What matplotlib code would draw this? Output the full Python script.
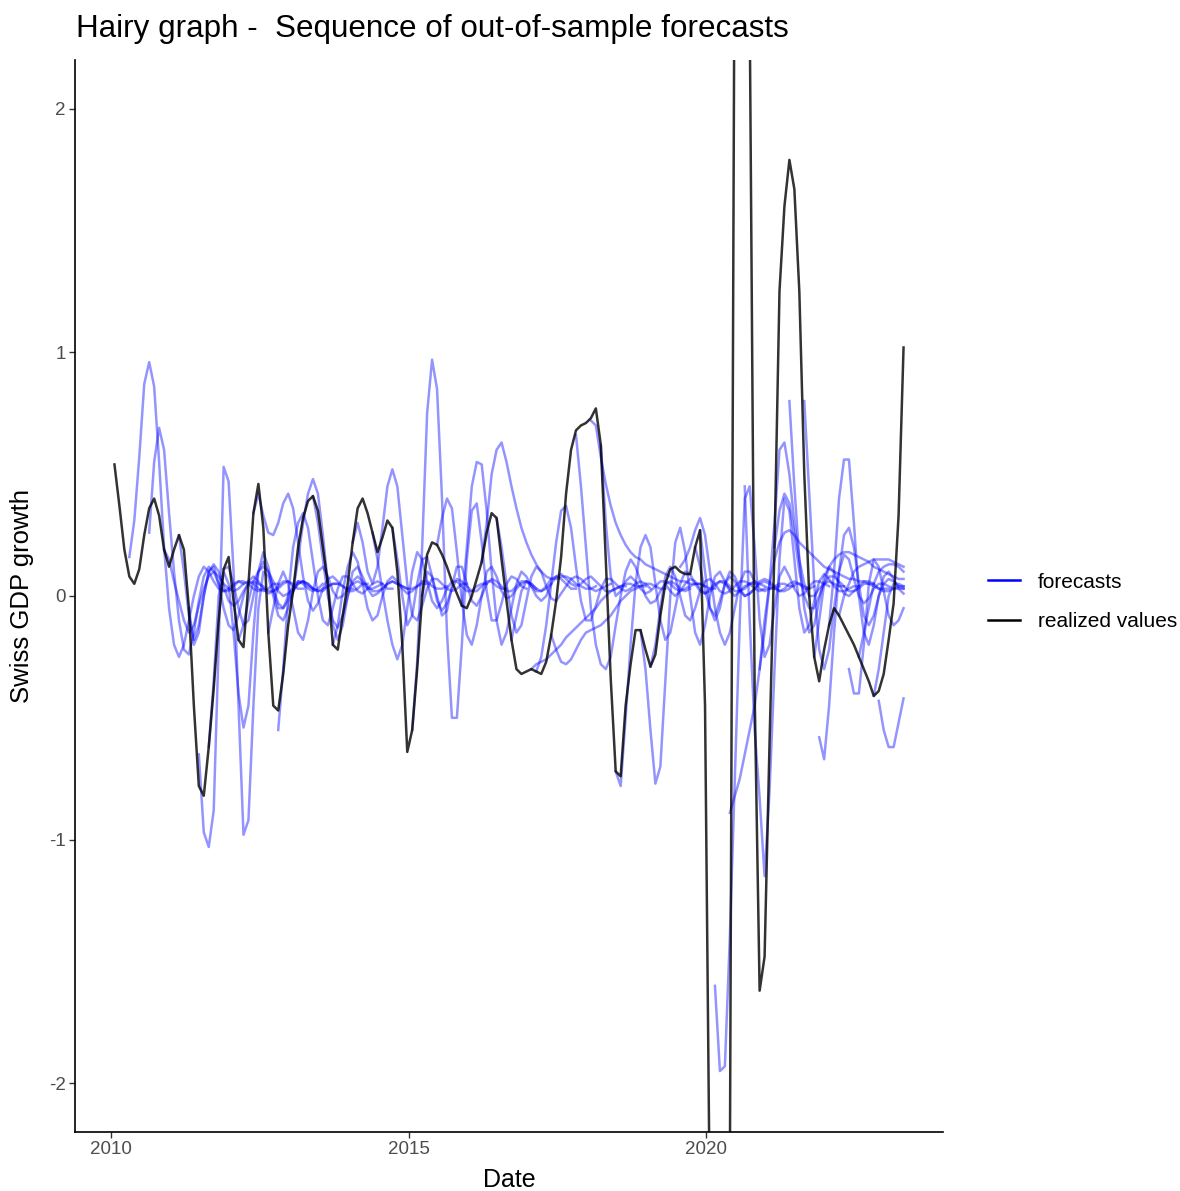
import numpy as np
import matplotlib
matplotlib.use("Agg")
import matplotlib.pyplot as plt
from matplotlib.lines import Line2D

plt.rcParams["font.family"] = ["Liberation Sans", "DejaVu Sans"]
plt.rcParams["axes.unicode_minus"] = False

# realized monthly Swiss GDP growth, first month = 2010-01
first_year = 2010.06
realized = [
    0.54, 0.37, 0.19, 0.08, 0.05, 0.11, 0.25, 0.36, 0.40, 0.33,
    0.19, 0.12, 0.19, 0.25, 0.19, -0.05, -0.45, -0.78, -0.82, -0.62,
    -0.38, -0.10, 0.11, 0.16, -0.02, -0.18, -0.21, 0.05, 0.34, 0.46,
    0.28, -0.15, -0.45, -0.47, -0.32, -0.12, 0.02, 0.20, 0.32, 0.39,
    0.41, 0.35, 0.20, 0.05, -0.20, -0.22, -0.08, 0.05, 0.22, 0.36,
    0.40, 0.34, 0.26, 0.18, 0.24, 0.31, 0.28, 0.10, -0.20, -0.64,
    -0.55, -0.30, 0.00, 0.17, 0.22, 0.21, 0.17, 0.12, 0.06, 0.01,
    -0.04, -0.05, 0.00, 0.07, 0.14, 0.26, 0.34, 0.32, 0.15, -0.02,
    -0.18, -0.30, -0.32, -0.31, -0.30, -0.31, -0.32, -0.27, -0.16, -0.02,
    0.16, 0.42, 0.60, 0.68, 0.70, 0.71, 0.73, 0.77, 0.62, 0.15,
    -0.34, -0.72, -0.74, -0.45, -0.28, -0.14, -0.14, -0.22, -0.29, -0.24,
    -0.08, 0.05, 0.11, 0.12, 0.10, 0.09, 0.09, 0.20, 0.27, -0.45,
    -2.60, -6.50, -7.50, -5.00, -2.40, 3.00, 6.00, 5.00, 2.40, -0.40,
    -1.62, -1.48, -0.60, 0.20, 1.25, 1.60, 1.79, 1.67, 1.25, 0.50,
    0.00, -0.25, -0.35, -0.22, -0.12, -0.05, -0.08, -0.12, -0.16, -0.20,
    -0.25, -0.30, -0.35, -0.41, -0.39, -0.32, -0.18, -0.03, 0.33, 1.02,
]

# forecast paths: month index of the first forecast and the forecast values
forecast_start = [
    3, 7, 10, 13, 15, 17, 19, 22, 25, 28,
    31, 33, 36, 40, 44, 48, 52, 56, 60, 62,
    65, 70, 74, 77, 85, 84, 88, 93, 96, 101,
    106, 108, 114, 117, 121, 124, 127, 136, 139, 130,
    133, 141, 142, 144, 148, 150, 153, 154, 146, 118,
    80, 98, 111,
]
forecast_values = [
    [0.16, 0.31, 0.57, 0.87, 0.96, 0.86, 0.55, 0.20, -0.05, -0.20, -0.25, -0.20, -0.10, 0.00, 0.08, 0.12, 0.10, 0.06, 0.03, 0.02, 0.03, 0.05, 0.06, 0.05],
    [0.26, 0.55, 0.69, 0.60, 0.34, 0.10, -0.10, -0.22, -0.24, -0.15, -0.02, 0.08, 0.12, 0.10, 0.05, 0.02, 0.02, 0.04, 0.06, 0.06, 0.05, 0.03, 0.02, 0.03],
    [0.19, 0.15, 0.06, -0.02, -0.10, -0.15, -0.12, -0.04, 0.03, 0.08, 0.10, 0.08, 0.05, 0.03, 0.02, 0.03, 0.05, 0.06, 0.05, 0.03, 0.02, 0.03, 0.05, 0.05],
    [0.25, 0.10, -0.08, -0.18, -0.12, 0.00, 0.10, 0.13, 0.10, 0.04, -0.02, -0.04, -0.02, 0.02, 0.05, 0.06, 0.05, 0.04, 0.02, 0.02, 0.03, 0.05, 0.06, 0.05],
    [-0.05, -0.20, -0.15, 0.00, 0.10, 0.12, 0.05, -0.05, -0.12, -0.14, -0.08, 0.00, 0.06, 0.08, 0.06, 0.03, 0.01, 0.02, 0.04, 0.06, 0.06, 0.04, 0.03, 0.03],
    [-0.65, -0.97, -1.03, -0.88, -0.20, 0.53, 0.47, 0.10, -0.45, -0.98, -0.92, -0.45, -0.05, 0.10, 0.08, 0.00, -0.08, -0.10, -0.05, 0.02, 0.06, 0.06, 0.04, 0.03],
    [-0.62, -0.35, 0.00, 0.10, 0.05, -0.15, -0.40, -0.54, -0.45, -0.15, 0.10, 0.18, 0.12, 0.02, -0.05, -0.05, 0.00, 0.04, 0.06, 0.05, 0.03, 0.02, 0.03, 0.05],
    [0.11, 0.12, 0.05, -0.05, -0.12, -0.10, 0.00, 0.10, 0.14, 0.10, 0.03, -0.03, -0.05, -0.02, 0.02, 0.05, 0.06, 0.05, 0.03, 0.02, 0.02, 0.04, 0.05, 0.05],
    [-0.18, -0.12, -0.02, 0.06, 0.10, 0.12, 0.10, 0.06, 0.02, 0.00, 0.01, 0.03, 0.05, 0.06, 0.05, 0.03, 0.02, 0.03, 0.04, 0.05, 0.05, 0.04, 0.03, 0.03],
    [0.34, 0.42, 0.33, 0.26, 0.25, 0.30, 0.38, 0.42, 0.36, 0.22, 0.08, -0.02, -0.06, -0.03, 0.03, 0.07, 0.08, 0.06, 0.04, 0.02, 0.02, 0.03, 0.05, 0.05],
    [-0.15, -0.05, 0.05, 0.10, 0.05, -0.05, -0.15, -0.18, -0.10, 0.02, 0.10, 0.12, 0.08, 0.02, -0.01, 0.00, 0.03, 0.05, 0.06, 0.05, 0.03, 0.03, 0.04, 0.05],
    [-0.55, -0.30, 0.00, 0.20, 0.30, 0.34, 0.28, 0.14, 0.00, -0.10, -0.12, -0.05, 0.03, 0.08, 0.08, 0.05, 0.02, 0.01, 0.03, 0.05, 0.06, 0.05, 0.03, 0.03],
    [0.02, 0.15, 0.30, 0.42, 0.48, 0.42, 0.25, 0.05, -0.12, -0.18, -0.12, 0.00, 0.10, 0.12, 0.08, 0.03, 0.00, 0.01, 0.03, 0.05, 0.06, 0.05, 0.04, 0.03],
    [0.41, 0.30, 0.15, 0.00, -0.10, -0.13, -0.08, 0.00, 0.06, 0.08, 0.06, 0.04, 0.02, 0.02, 0.03, 0.05, 0.06, 0.05, 0.04, 0.03, 0.03, 0.04, 0.05, 0.05],
    [-0.20, -0.12, 0.02, 0.12, 0.18, 0.14, 0.05, -0.05, -0.10, -0.08, 0.00, 0.06, 0.08, 0.06, 0.03, 0.01, 0.02, 0.04, 0.06, 0.06, 0.04, 0.03, 0.03, 0.04],
    [0.22, 0.30, 0.22, 0.10, 0.05, 0.12, 0.28, 0.45, 0.52, 0.45, 0.25, 0.05, -0.08, -0.10, -0.04, 0.03, 0.07, 0.07, 0.05, 0.03, 0.02, 0.03, 0.05, 0.05],
    [0.26, 0.15, 0.02, -0.10, -0.20, -0.26, -0.20, -0.05, 0.10, 0.18, 0.15, 0.06, -0.02, -0.05, -0.02, 0.03, 0.06, 0.06, 0.04, 0.02, 0.02, 0.04, 0.05, 0.05],
    [0.28, 0.15, 0.00, -0.12, -0.08, 0.05, 0.15, 0.16, 0.08, -0.02, -0.06, -0.03, 0.03, 0.07, 0.06, 0.04, 0.02, 0.02, 0.04, 0.06, 0.06, 0.04, 0.03, 0.03],
    [-0.55, -0.27, 0.20, 0.75, 0.97, 0.85, 0.40, -0.15, -0.50, -0.50, -0.20, 0.15, 0.35, 0.38, 0.22, 0.02, -0.10, -0.10, -0.03, 0.05, 0.08, 0.07, 0.04, 0.03],
    [0.00, 0.10, 0.08, 0.00, -0.08, -0.06, 0.04, 0.12, 0.12, 0.05, -0.02, -0.04, 0.00, 0.05, 0.07, 0.06, 0.04, 0.02, 0.02, 0.04, 0.06, 0.06, 0.05, 0.03],
    [0.21, 0.32, 0.40, 0.36, 0.18, -0.02, -0.16, -0.20, -0.12, 0.00, 0.10, 0.12, 0.08, 0.02, -0.01, 0.00, 0.03, 0.05, 0.06, 0.05, 0.03, 0.02, 0.03, 0.05],
    [-0.04, 0.20, 0.45, 0.55, 0.54, 0.35, 0.10, -0.10, -0.20, -0.15, -0.05, 0.05, 0.10, 0.08, 0.04, 0.02, 0.02, 0.04, 0.07, 0.08, 0.07, 0.05, 0.03, 0.03],
    [0.14, 0.30, 0.50, 0.60, 0.63, 0.55, 0.45, 0.36, 0.28, 0.22, 0.17, 0.13, 0.10, 0.08, 0.07, 0.07, 0.08, 0.08, 0.07, 0.05, 0.04, 0.03, 0.03, 0.04],
    [0.32, 0.20, 0.05, -0.08, -0.15, -0.12, -0.02, 0.08, 0.12, 0.10, 0.04, -0.01, -0.02, 0.01, 0.04, 0.07, 0.08, 0.07, 0.05, 0.03, 0.02, 0.03, 0.04, 0.05],
    [-0.31, -0.25, -0.12, 0.05, 0.22, 0.35, 0.37, 0.28, 0.12, -0.02, -0.10, -0.10, -0.04, 0.03, 0.07, 0.07, 0.05, 0.03, 0.02, 0.03, 0.05, 0.06, 0.05, 0.03],
    [-0.30, -0.28, -0.27, -0.26, -0.24, -0.22, -0.20, -0.17, -0.15, -0.13, -0.11, -0.09, -0.07, -0.05, -0.02, 0.00, 0.02, 0.03, 0.04, 0.05, 0.05, 0.04, 0.04, 0.04],
    [-0.16, -0.22, -0.27, -0.28, -0.26, -0.22, -0.18, -0.15, -0.14, -0.13, -0.12, -0.10, -0.08, -0.05, -0.02, 0.00, 0.02, 0.03, 0.04, 0.05, 0.05, 0.04, 0.03, 0.03],
    [0.66, 0.45, 0.20, -0.05, -0.20, -0.28, -0.30, -0.25, -0.12, 0.00, 0.10, 0.15, 0.12, 0.06, 0.00, -0.03, -0.02, 0.02, 0.05, 0.06, 0.05, 0.03, 0.02, 0.03],
    [0.72, 0.70, 0.57, 0.46, 0.37, 0.30, 0.25, 0.21, 0.18, 0.16, 0.15, 0.13, 0.12, 0.11, 0.10, 0.09, 0.08, 0.07, 0.06, 0.06, 0.05, 0.05, 0.05, 0.04],
    [-0.72, -0.78, -0.50, -0.20, 0.05, 0.20, 0.25, 0.20, 0.05, -0.10, -0.18, -0.15, -0.05, 0.05, 0.10, 0.09, 0.05, 0.02, 0.01, 0.03, 0.05, 0.06, 0.05, 0.03],
    [-0.14, -0.30, -0.55, -0.77, -0.70, -0.35, 0.00, 0.22, 0.28, 0.18, 0.00, -0.15, -0.20, -0.12, 0.00, 0.08, 0.10, 0.06, 0.02, 0.00, 0.02, 0.04, 0.05, 0.05],
    [-0.29, -0.20, -0.05, 0.08, 0.12, 0.08, 0.00, -0.08, -0.10, -0.05, 0.02, 0.06, 0.07, 0.05, 0.02, 0.01, 0.02, 0.04, 0.06, 0.06, 0.05, 0.03, 0.02, 0.03],
    [0.12, 0.15, 0.20, 0.27, 0.32, 0.25, 0.10, -0.05, -0.15, -0.20, -0.15, -0.05, 0.05, 0.10, 0.10, 0.06, 0.03, 0.02, 0.03, 0.04, 0.05, 0.05, 0.04, 0.04],
    [0.20, 0.12, 0.02, -0.05, -0.08, -0.02, 0.05, 0.08, 0.06, 0.02, 0.00, 0.01, 0.03, 0.06, 0.07, 0.06, 0.04, 0.02, 0.02, 0.03, 0.05, 0.05, 0.04, 0.03],
    [-1.60, -1.95, -1.93, -1.40, -0.75, -0.10, 0.40, 0.45, 0.20, -0.10, -0.25, -0.20, -0.05, 0.08, 0.12, 0.08, 0.03, 0.00, 0.01, 0.04, 0.06, 0.06, 0.05, 0.04],
    [-0.89, -0.82, -0.75, -0.65, -0.55, -0.45, -0.30, -0.15, 0.05, 0.30, 0.60, 0.63, 0.50, 0.30, 0.15, 0.05, 0.00, 0.00, 0.03, 0.05, 0.06, 0.05, 0.04, 0.04],
    [0.45, -0.10, -0.55, -0.83, -1.15, -0.80, -0.30, 0.15, 0.40, 0.35, 0.15, -0.05, -0.15, -0.12, -0.02, 0.06, 0.09, 0.07, 0.04, 0.02, 0.02, 0.03, 0.04, 0.04],
    [0.80, 0.45, 0.15, -0.05, -0.15, -0.12, -0.02, 0.08, 0.12, 0.10, 0.05, 0.01, 0.00, 0.02, 0.04, 0.06, 0.06, 0.05, 0.03, 0.02, 0.02, 0.03, 0.04, 0.04],
    [0.80, 0.42, 0.05, -0.22, -0.30, -0.22, -0.05, 0.10, 0.17, 0.15, 0.07, 0.00, -0.03, -0.01, 0.03, 0.05, 0.05, 0.04, 0.03, 0.03, 0.03],
    [-0.30, -0.10, 0.05, 0.15, 0.22, 0.26, 0.27, 0.25, 0.22, 0.20, 0.18, 0.16, 0.14, 0.12, 0.11, 0.10, 0.09, 0.08, 0.07, 0.07, 0.06, 0.06, 0.05, 0.05],
    [0.20, 0.35, 0.42, 0.38, 0.25, 0.10, 0.00, -0.05, -0.05, 0.00, 0.05, 0.08, 0.08, 0.06, 0.04, 0.02, 0.02, 0.03, 0.05, 0.05, 0.04, 0.03, 0.03, 0.03],
    [-0.25, -0.10, 0.05, 0.12, 0.15, 0.17, 0.18, 0.18, 0.17, 0.16, 0.15, 0.14, 0.12, 0.11, 0.10, 0.09, 0.08, 0.07, 0.07],
    [-0.58, -0.67, -0.45, -0.15, 0.10, 0.25, 0.28, 0.20, 0.05, -0.08, -0.12, -0.08, 0.00, 0.05, 0.07, 0.06, 0.04, 0.03],
    [-0.12, 0.10, 0.40, 0.56, 0.56, 0.30, 0.00, -0.15, -0.20, -0.12, 0.00, 0.08, 0.10, 0.07, 0.03, 0.01],
    [-0.30, -0.40, -0.40, -0.20, 0.05, 0.15, 0.12, 0.02, -0.08, -0.12, -0.10, -0.05],
    [-0.25, -0.15, -0.05, 0.05, 0.10, 0.12, 0.13, 0.13, 0.12, 0.10],
    [-0.41, -0.30, -0.15, 0.00, 0.05, 0.05, 0.04],
    [-0.43, -0.55, -0.62, -0.62, -0.52, -0.42],
    [-0.08, 0.00, 0.05, 0.10, 0.12, 0.13, 0.14, 0.15, 0.15, 0.15, 0.15, 0.14, 0.13, 0.12],
    [0.27, 0.10, -0.05, -0.10, -0.05, 0.05, 0.10, 0.08, 0.03, 0.00, 0.01, 0.03, 0.05, 0.06, 0.05, 0.03, 0.02, 0.03, 0.05, 0.06, 0.05, 0.03, 0.03, 0.04],
    [-0.18, -0.08, 0.02, 0.06, 0.04, 0.00, -0.02, 0.00, 0.05, 0.08, 0.09, 0.07, 0.05, 0.04, 0.05, 0.07, 0.08, 0.06, 0.04, 0.02, 0.02, 0.03, 0.04, 0.04],
    [0.62, 0.30, 0.08, 0.00, 0.02, 0.06, 0.08, 0.06, 0.03, 0.01, 0.02, 0.04, 0.06, 0.06, 0.05, 0.03, 0.02, 0.03, 0.04, 0.05, 0.05, 0.04, 0.03, 0.03],
    [0.05, 0.02, 0.00, 0.02, 0.05, 0.07, 0.06, 0.03, 0.01, 0.02, 0.04, 0.06, 0.06, 0.04, 0.02, 0.02, 0.03, 0.05, 0.06, 0.05, 0.04, 0.03, 0.03, 0.04],
]

n_months = len(realized)
dates = first_year + np.arange(n_months) / 12

W, H = 1180, 1191
fig = plt.figure(figsize=(W / 100, H / 100), dpi=100)
ax = fig.add_axes([75 / W, 1 - 1132 / H, (943 - 75) / W, (1132 - 60) / H])

for start, vals in zip(forecast_start, forecast_values):
    stop = min(start + len(vals), n_months)
    ax.plot(dates[start:stop], vals[:stop - start], color="blue", alpha=0.42, lw=1.8,
            solid_joinstyle="round")

ax.plot(dates, realized, color="black", alpha=0.8, lw=1.8)

span = dates[-1] - dates[0]
ax.set_xlim(dates[0] - 0.05 * span, dates[-1] + 0.05 * span)
ax.set_ylim(-2.2, 2.2)
ax.set_xticks([2010, 2015, 2020])
ax.set_yticks([-2, -1, 0, 1, 2])

for side in ["top", "right"]:
    ax.spines[side].set_visible(False)
for side in ["left", "bottom"]:
    ax.spines[side].set_linewidth(1.2)
    ax.spines[side].set_color("black")
ax.tick_params(length=4, width=1, color="#333333", labelsize=13.5, labelcolor="#4D4D4D", pad=2.5)

fig.text(76 / W, 1 - 29 / H, "Hairy graph -  Sequence of out-of-sample forecasts",
         fontsize=22.6, ha="left", va="center")
fig.text(509 / W, 1 - 1180 / H, "Date", fontsize=18, ha="center", va="center")
fig.text(22 / W, 1 - 596 / H, "Swiss GDP growth", fontsize=18.5, rotation=90,
         ha="center", va="center")

handles = [Line2D([], [], color="blue", lw=1.8), Line2D([], [], color="black", lw=1.8)]
fig.legend(handles, ["forecasts", "realized values"], loc="center left",
           bbox_to_anchor=(969 / W, 1 - 602 / H), frameon=False, fontsize=15,
           handlelength=1.55, handletextpad=0.85, labelspacing=1.0)

fig.savefig("out.png", dpi=100)
